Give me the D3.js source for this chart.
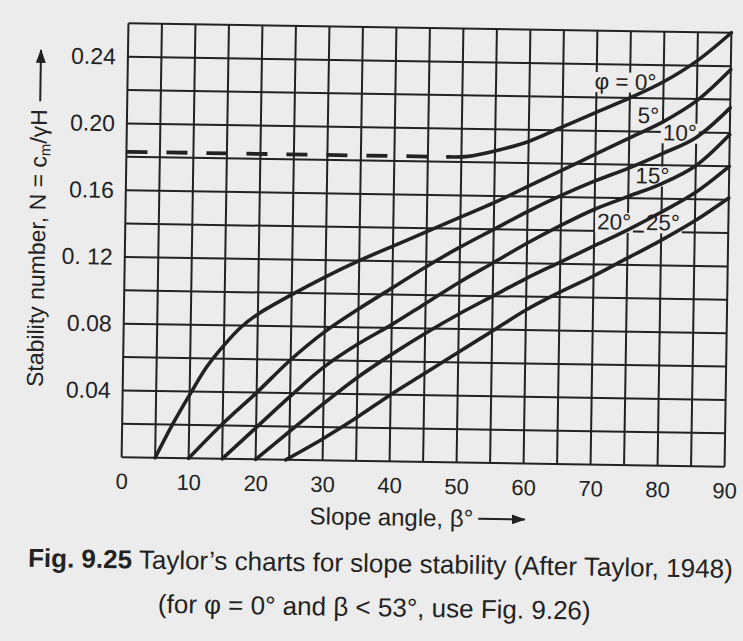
<!DOCTYPE html>
<html>
<head>
<meta charset="utf-8">
<script src="https://cdn.jsdelivr.net/npm/d3@7"></script>
<style>
  body { margin: 0; background: #ececec; }
  svg { display: block; }
</style>
</head>
<body>
<div id="chart"></div>
<script>
// tick values
var betaTicks = [0, 10, 20, 30, 40, 50, 60, 70, 80, 90];
var nTicks = [0.04, 0.08, 0.12, 0.16, 0.20, 0.24];
var nTickText = ["0.04", "0.08", "0. 12", "0.16", "0.20", "0.24"];

// dashed toe-circle line for phi = 0 (beta below about 53)
var dashBeta = [0, 48];
var dashN = 0.183;

// curves [slope angle beta, stability number N]
var phi0  = [[48,0.183],[51,0.1835],[55,0.187],[60,0.193],[65,0.202],[70,0.211],[75,0.220],[80,0.230],[85,0.243],[90,0.26]];
var phi5  = [[5,0],[7.5,0.02],[10,0.038],[12.5,0.055],[15,0.068],[17.5,0.079],[20,0.087],[25,0.099],[30,0.110],[35,0.120],[40,0.129],[45,0.138],[50,0.147],[55,0.156],[60,0.166],[65,0.176],[70,0.186],[75,0.196],[80,0.206],[85,0.219],[90,0.238]];
var phi10 = [[10,0],[15,0.021],[20,0.040],[25,0.060],[30,0.077],[35,0.091],[40,0.104],[45,0.117],[50,0.129],[55,0.140],[60,0.151],[65,0.161],[70,0.170],[75,0.178],[80,0.187],[85,0.197],[90,0.215]];
var phi15 = [[15,0],[20,0.019],[25,0.038],[30,0.056],[35,0.070],[40,0.082],[45,0.095],[50,0.108],[55,0.120],[60,0.132],[65,0.143],[70,0.153],[75,0.161],[80,0.169],[85,0.180],[90,0.199]];
var phi20 = [[20,0],[25,0.017],[30,0.034],[35,0.050],[40,0.064],[45,0.077],[50,0.089],[55,0.100],[60,0.111],[65,0.121],[70,0.131],[75,0.141],[80,0.152],[85,0.164],[90,0.180]];
var phi25 = [[24.5,0],[30,0.013],[35,0.026],[40,0.040],[45,0.053],[50,0.066],[55,0.079],[60,0.092],[65,0.103],[70,0.113],[75,0.124],[80,0.135],[85,0.147],[90,0.161]];
var curves = [phi0, phi5, phi10, phi15, phi20, phi25];

// curve labels, anchored at (beta, N) of the text baseline start
var labelText = ["φ = 0°", "5°", "10°", "15°", "20°", "25°"];
var labelBeta = [69.7, 76.2, 80.0, 76.0, 70.4, 77.7];
var labelN    = [0.225, 0.205, 0.195, 0.169, 0.141, 0.141];

var W = 743, H = 641;
var margin = {left: 125, right: 15, top: 28, bottom: 179};
var x0 = margin.left, x1 = W - margin.right;
var y0 = margin.top, y1 = H - margin.bottom;
var ink = "#222";
var paper = "#ececec";
var font = "'Liberation Sans', Arial, Helvetica, sans-serif";

var svg = d3.select("#chart").append("svg")
    .attr("width", W)
    .attr("height", H)
    .style("font-family", font);

svg.append("rect").attr("width", W).attr("height", H).attr("fill", paper);

svg.append("defs").append("marker")
    .attr("id", "arrow")
    .attr("viewBox", "0 0 14 10")
    .attr("refX", 13).attr("refY", 5)
    .attr("markerWidth", 7).attr("markerHeight", 5)
    .attr("markerUnits", "strokeWidth")
    .attr("orient", "auto")
  .append("path")
    .attr("d", "M0,0 L14,5 L0,10 z")
    .attr("fill", ink);

// the scanned page sits a little crooked
var g = svg.append("g")
    .attr("transform", "rotate(0.9," + (x0 + x1) / 2 + "," + (y0 + y1) / 2 + ")");

var x = d3.scaleLinear().domain([0, 90]).range([x0, x1]);
var y = d3.scaleLinear().domain([0, 0.26]).range([y1, y0]);

// grid
var grid = g.append("g").attr("stroke", ink).attr("stroke-width", 2);
grid.selectAll(".v").data(d3.range(0, 91, 5)).enter().append("line")
    .attr("x1", function(d) { return x(d); }).attr("x2", function(d) { return x(d); })
    .attr("y1", y0).attr("y2", y1);
grid.selectAll(".h").data(d3.range(0, 14).map(function(i) { return i * 0.02; })).enter().append("line")
    .attr("x1", x0).attr("x2", x1)
    .attr("y1", function(d) { return y(d); }).attr("y2", function(d) { return y(d); });

var boxes = g.append("g");
var curveG = g.append("g");
var labelG = g.append("g");

// axis labels
var xAxis = g.append("g")
    .attr("transform", "translate(0," + y1 + ")")
    .call(d3.axisBottom(x).tickValues(betaTicks).tickSize(0).tickPadding(16).tickFormat(d3.format("d")));
xAxis.select(".domain").remove();
xAxis.selectAll("text").attr("font-size", 22).attr("fill", ink).style("font-family", font);

var yAxis = g.append("g")
    .attr("transform", "translate(" + x0 + ",0)")
    .call(d3.axisLeft(y).tickValues(nTicks).tickSize(0).tickPadding(12)
      .tickFormat(function(d, i) { return nTickText[i]; }));
yAxis.select(".domain").remove();
yAxis.selectAll("text").attr("font-size", 23).attr("fill", ink).style("font-family", font);

// dashed line
curveG.append("line")
    .attr("x1", x(dashBeta[0])).attr("x2", x(dashBeta[1]))
    .attr("y1", y(dashN)).attr("y2", y(dashN))
    .attr("stroke", ink).attr("stroke-width", 3.8)
    .attr("stroke-dasharray", "21,19");

var line = d3.line()
    .x(function(d) { return x(d[0]); })
    .y(function(d) { return y(d[1]); })
    .curve(d3.curveCatmullRom.alpha(0.5));

curveG.selectAll(".curve").data(curves).enter().append("path")
    .attr("fill", "none")
    .attr("stroke", ink)
    .attr("stroke-width", 3.6)
    .attr("stroke-linecap", "round")
    .attr("d", line);

// labels with a clear patch behind, so grid lines stop at the text
labelText.forEach(function(t, i) {
  var tx = labelG.append("text")
      .attr("x", x(labelBeta[i]))
      .attr("y", y(labelN[i]))
      .attr("font-size", 22.5)
      .attr("fill", ink)
      .text(t);
  var b = tx.node().getBBox();
  boxes.append("rect")
      .attr("x", b.x - 2).attr("y", b.y + 3)
      .attr("width", b.width + 4).attr("height", b.height - 5)
      .attr("fill", paper);
});

// x axis title
var xt = g.append("text")
    .attr("x", 314).attr("y", 526)
    .attr("font-size", 24).attr("fill", ink)
    .text("Slope angle, β°");
var xtEnd = 314 + xt.node().getComputedTextLength();
g.append("line")
    .attr("x1", xtEnd + 5).attr("x2", 529)
    .attr("y1", 518).attr("y2", 518)
    .attr("stroke", ink).attr("stroke-width", 2)
    .attr("marker-end", "url(#arrow)");

// y axis title
var yt = g.append("text")
    .attr("transform", "translate(45,393) rotate(-90)")
    .attr("font-size", 23).attr("fill", ink);
yt.append("tspan").text("Stability number, N = c");
yt.append("tspan").attr("font-size", 15).attr("dy", 4).text("m");
yt.append("tspan").attr("dy", -4).text("/γH");
var ytLen = yt.node().getComputedTextLength();
g.append("line")
    .attr("x1", 38).attr("x2", 38)
    .attr("y1", 393 - ytLen - 8).attr("y2", 56)
    .attr("stroke", ink).attr("stroke-width", 2)
    .attr("marker-end", "url(#arrow)");

// caption
var cap1 = g.append("text")
    .attr("x", 33).attr("y", 573)
    .attr("font-size", 26).attr("fill", ink);
cap1.append("tspan").attr("font-weight", "bold").text("Fig. 9.25");
cap1.append("tspan").text(" Taylor’s charts for slope stability (After Taylor, 1948)");

g.append("text")
    .attr("x", 380).attr("y", 617)
    .attr("text-anchor", "middle")
    .attr("font-size", 26).attr("fill", ink)
    .text("(for φ = 0° and β < 53°, use Fig. 9.26)");
</script>
</body>
</html>
